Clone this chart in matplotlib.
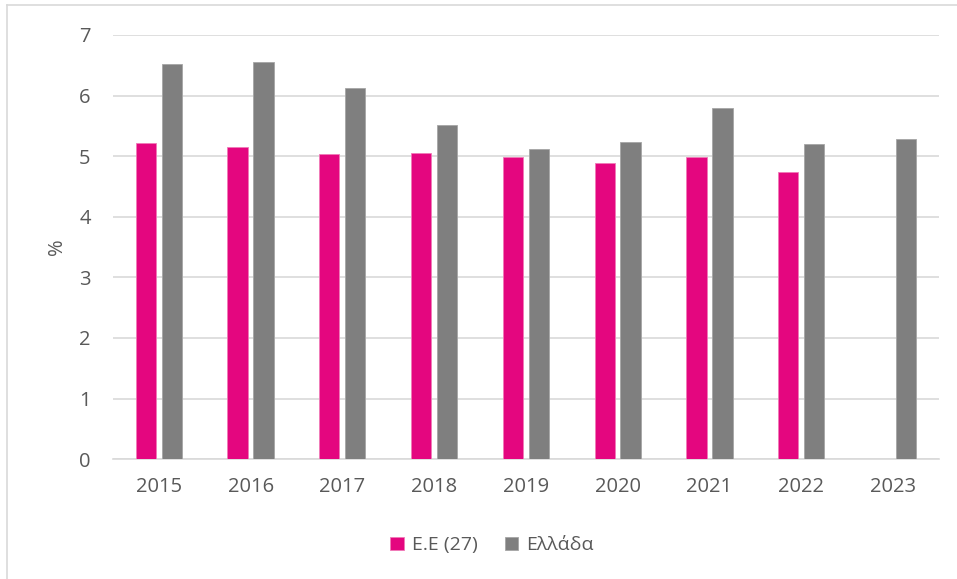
import matplotlib.pyplot as plt
import numpy as np
from matplotlib.lines import Line2D

# data
years = ["2015", "2016", "2017", "2018", "2019", "2020", "2021", "2022", "2023"]
eu27 = [5.21, 5.15, 5.03, 5.05, 4.99, 4.88, 4.99, 4.74, np.nan]
greece = [6.52, 6.56, 6.12, 5.51, 5.11, 5.23, 5.80, 5.20, 5.28]

pink = "#E4067F"
grey = "#7F7F7F"
txt = "#595959"

plt.rcParams["font.family"] = ["Open Sans", "DejaVu Sans"]

fig = plt.figure(figsize=(9.57, 5.79), dpi=100)
ax = fig.add_axes([0.118, 0.207, 0.863, 0.7326])

x = np.arange(len(years))
w = 0.221
off = 0.1416
ax.bar(x - off, eu27, width=w, color=pink, edgecolor="#F07AB8", linewidth=0.6,
       label="Ε.Ε (27)", zorder=3)
ax.bar(x + off, greece, width=w, color=grey, edgecolor="#A6A6A6", linewidth=0.6,
       label="Ελλάδα", zorder=3)

ax.set_xlim(-0.5, len(years) - 0.5)
ax.set_ylim(0, 7)
ax.set_yticks(range(0, 8))
ax.set_xticks(x)
ax.set_xticklabels(years)
ax.yaxis.grid(True, color="#D9D9D9", linewidth=1.2, zorder=0)
for s in ["top", "right", "left"]:
    ax.spines[s].set_visible(False)
ax.spines["bottom"].set_color("#D9D9D9")
ax.spines["bottom"].set_linewidth(1.2)
ax.tick_params(axis="both", length=0, labelsize=14.5, colors=txt)
ax.tick_params(axis="x", pad=13)
ax.tick_params(axis="y", pad=16)
ax.set_ylabel("%", fontsize=14.5, color=txt, labelpad=9)

leg = fig.legend(loc="center", bbox_to_anchor=(0.514, 0.058), ncol=2, frameon=False,
                 fontsize=14, handlelength=0.7, handleheight=0.7,
                 handletextpad=0.4, columnspacing=1.4)
for t in leg.get_texts():
    t.set_color(txt)

# chart frame
fig.add_artist(Line2D([7 / 957, 7 / 957], [0, 1 - 5 / 579], color="#D9D9D9", lw=1.2))
fig.add_artist(Line2D([7 / 957, 1], [1 - 5 / 579, 1 - 5 / 579], color="#D9D9D9", lw=1.2))

fig.savefig("out.png", dpi=100)
